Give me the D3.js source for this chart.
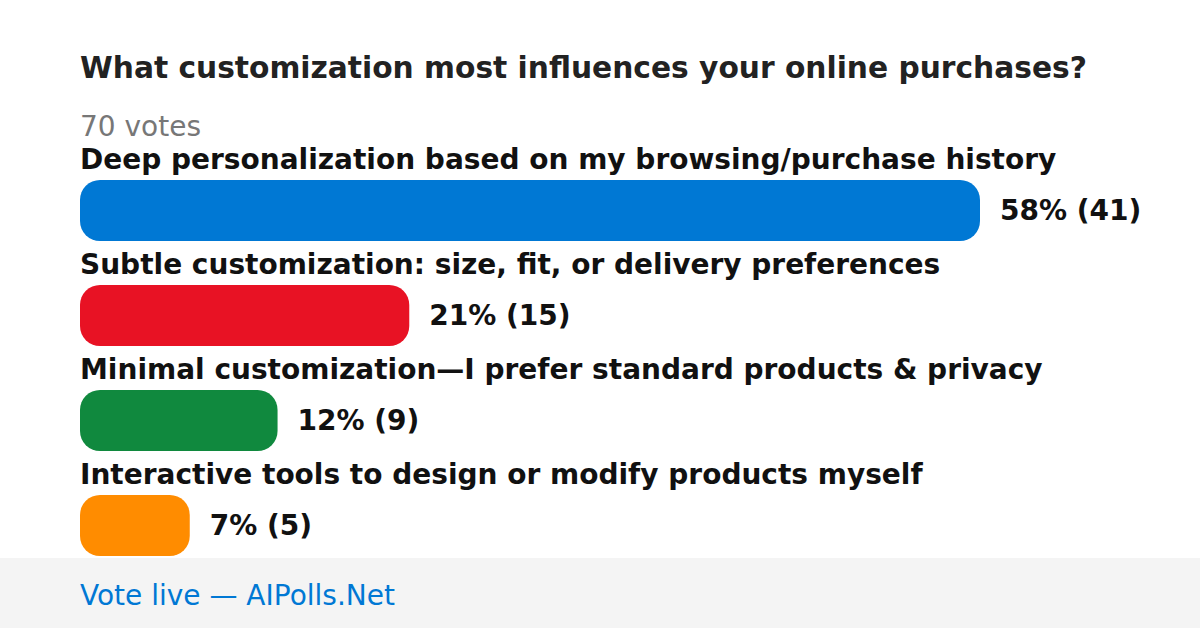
<!DOCTYPE html>
<html><head><meta charset="utf-8">
<script src="https://cdn.jsdelivr.net/npm/d3@7"></script>
<style>html,body{margin:0;padding:0;background:#fff;}svg{display:block;}</style>
</head><body>
<script>
const title = "What customization most influences your online purchases?";
const totalLabel = "70 votes";
const categories = [
  "Deep personalization based on my browsing/purchase history",
  "Subtle customization: size, fit, or delivery preferences",
  "Minimal customization\u2014I prefer standard products & privacy",
  "Interactive tools to design or modify products myself"
];
const votes = [41, 15, 9, 5];
const percents = [58, 21, 12, 7];
const colors = ["#0078d4", "#e81224", "#10893e", "#ff8c00"];
const footer = "Vote live \u2014 AIPolls.Net";

const W = 1200, H = 628;
const svg = d3.select("body").append("svg").attr("width", W).attr("height", H);
const font = "DejaVu Sans, sans-serif";

svg.append("text").attr("x", 80).attr("y", 78).text(title)
  .attr("font-family", font).attr("font-weight", "bold").attr("font-size", 29.7).attr("fill", "#222");
svg.append("text").attr("x", 80).attr("y", 136).text(totalLabel)
  .attr("font-family", font).attr("font-size", 28).attr("fill", "#777");

const x = d3.scaleLinear().domain([0, d3.max(votes)]).range([0, 900]);
const y = d3.scaleBand().domain(d3.range(categories.length)).range([180, 600]).paddingInner(0).paddingOuter(0);

const g = svg.selectAll("g.row").data(categories).enter().append("g").attr("class", "row");
g.append("text").attr("x", 80).attr("y", (d, i) => y(i) - 11).text(d => d)
  .attr("font-family", font).attr("font-weight", "bold").attr("font-size", 28).attr("fill", "#111");
g.append("rect").attr("x", 80).attr("y", (d, i) => y(i)).attr("height", 61)
  .attr("width", (d, i) => x(votes[i])).attr("rx", 20).attr("ry", 20)
  .attr("fill", (d, i) => colors[i]);
g.append("text").attr("x", (d, i) => 80 + x(votes[i]) + 20).attr("y", (d, i) => y(i) + 40)
  .text((d, i) => `${percents[i]}% (${votes[i]})`)
  .attr("font-family", font).attr("font-weight", "bold").attr("font-size", 28).attr("fill", "#111");

svg.append("rect").attr("x", 0).attr("y", 558).attr("width", W).attr("height", 70).attr("fill", "#f4f4f4");
svg.append("text").attr("x", 80).attr("y", 605).text(footer)
  .attr("font-family", font).attr("font-size", 28).attr("fill", "#0078d4");
</script>
</body></html>
